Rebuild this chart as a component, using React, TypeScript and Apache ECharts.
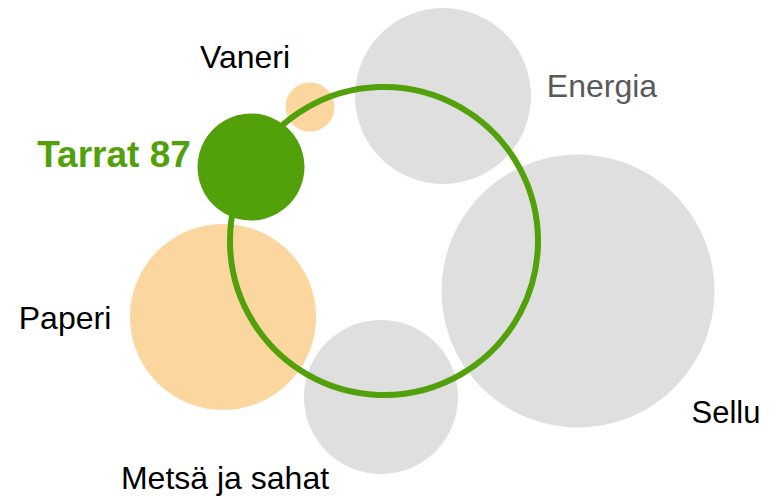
import React, { useEffect, useRef } from "react";
import * as echarts from "echarts";

// ---- Data (plot units; y grows downward) ----
const categories = ["Energia", "Sellu", "Metsä ja sahat", "Paperi", "Vaneri"];
const xValues = [443, 578, 381, 223, 310];
const yValues = [96, 291, 397, 317, 107];
const diameters = [176, 273, 154, 186, 49];
const groups = ["muut", "muut", "muut", "paperi", "paperi"];

const highlightName = "Tarrat 87";
const highlightX = [251];
const highlightY = [167];
const highlightDiameter = [107];

const ringX = [384];
const ringY = [241];
const ringDiameter = [308];

// ---- Styling ----
const GREEN = "#52a00a";
const ORANGE = "#fbd79f";
const GREY = "#dfdfdf";
const FONT = "'Liberation Sans', Arial, Helvetica, sans-serif";

const labelOffsets: Record<string, [number, number]> = {
  Energia: [159, -10],
  Sellu: [148, 121],
  "Metsä ja sahat": [-156, 81],
  Paperi: [-158, 1],
  Vaneri: [-65, -50],
  "Tarrat 87": [-137, -13],
};
const labelColors: Record<string, string> = {
  Energia: "#595959",
};

export default function App() {
  const ref = useRef<HTMLDivElement>(null);
  useEffect(() => {
    document.body.style.margin = "0";
    if (!ref.current) return;
    const chart = echarts.init(ref.current, undefined, { renderer: "svg" });

    const bubbleData = categories.map((name, i) => ({
      name,
      value: [xValues[i], yValues[i], diameters[i]],
      itemStyle: { color: groups[i] === "paperi" ? ORANGE : GREY, opacity: 1 },
      label: {
        show: true,
        position: "inside",
        formatter: name,
        offset: labelOffsets[name],
        color: labelColors[name] || "#000000",
        fontSize: name === "Sellu" ? 31 : 32,
        fontFamily: FONT,
      },
    }));

    chart.setOption({
      animation: false,
      backgroundColor: "#ffffff",
      grid: { left: 0, right: 0, top: 0, bottom: 0 },
      xAxis: { type: "value", min: 0, max: 776, show: false },
      yAxis: { type: "value", min: 0, max: 498, inverse: true, show: false },
      tooltip: { show: false },
      series: [
        {
          type: "scatter",
          z: 1,
          symbol: "circle",
          symbolSize: (v: number[]) => v[2],
          data: bubbleData,
          itemStyle: { opacity: 1 },
          emphasis: { disabled: true },
          silent: true,
        },
        {
          type: "scatter",
          z: 2,
          symbol: "circle",
          symbolSize: (v: number[]) => v[2],
          data: ringX.map((x, i) => [x, ringY[i], ringDiameter[i]]),
          itemStyle: { color: "rgba(0,0,0,0)", borderColor: GREEN, borderWidth: 6, opacity: 1 },
          emphasis: { disabled: true },
          silent: true,
        },
        {
          type: "scatter",
          z: 3,
          symbol: "circle",
          symbolSize: (v: number[]) => v[2],
          data: highlightX.map((x, i) => ({
            name: highlightName,
            value: [x, highlightY[i], highlightDiameter[i]],
          })),
          itemStyle: { color: GREEN, opacity: 1 },
          label: {
            show: true,
            position: "inside",
            formatter: highlightName,
            offset: labelOffsets[highlightName],
            color: GREEN,
            fontSize: 37,
            fontWeight: "bold",
            fontFamily: FONT,
          },
          emphasis: { disabled: true },
          silent: true,
        },
      ],
    });
    return () => chart.dispose();
  }, []);

  return (
    <div style={{ position: "fixed", left: 0, top: 0, width: 776, height: 498 }}>
      <div ref={ref} style={{ width: 776, height: 498 }} />
    </div>
  );
}
